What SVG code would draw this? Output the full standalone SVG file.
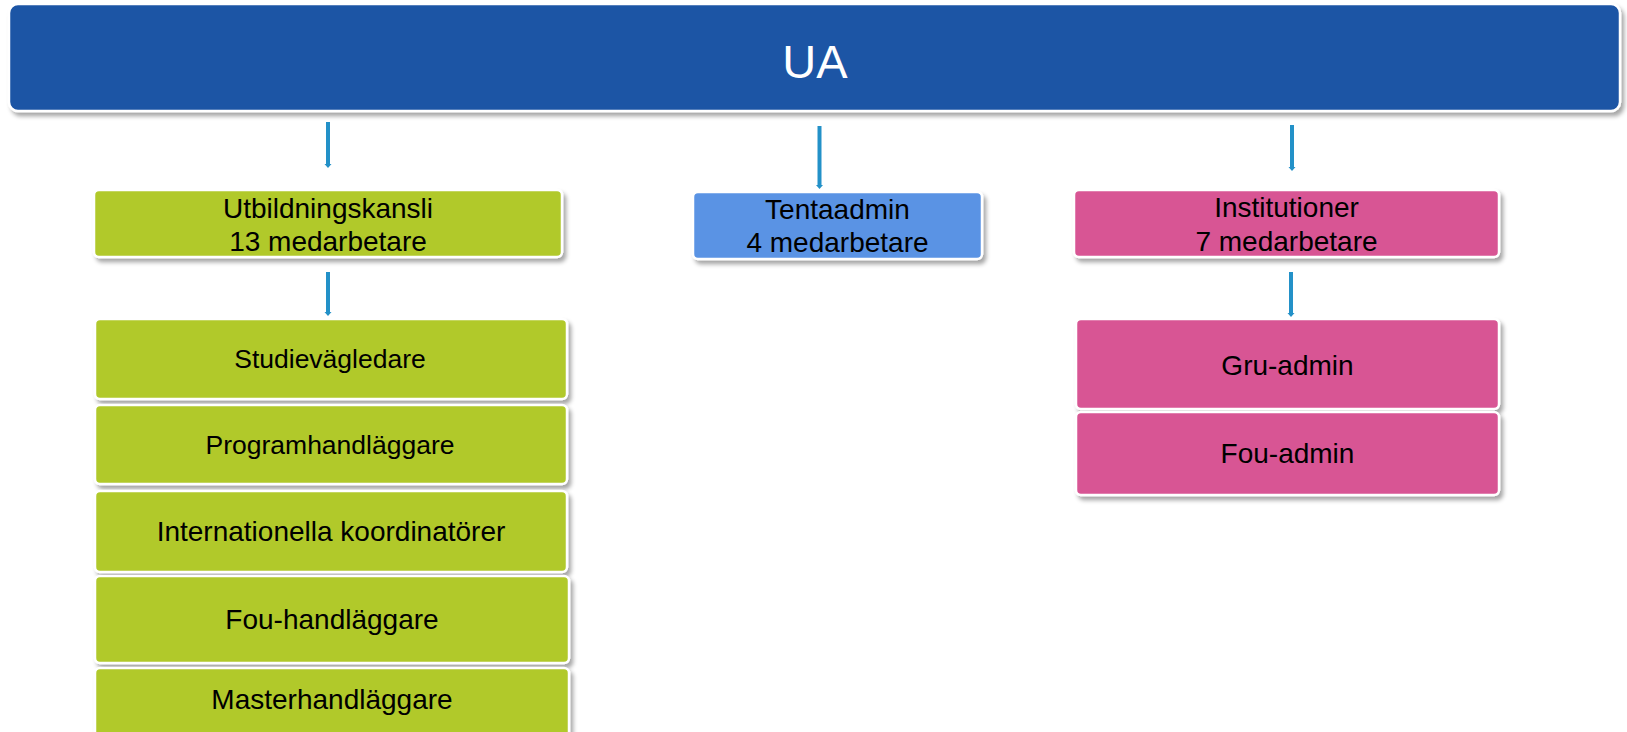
<svg xmlns="http://www.w3.org/2000/svg" width="1627" height="732" viewBox="0 0 1627 732">
<defs>
<filter id="sh" x="-5%" y="-20%" width="110%" height="150%">
<feDropShadow dx="3" dy="4" stdDeviation="2" flood-color="#000" flood-opacity="0.35"/>
</filter>
<style>
.box{stroke:#fff;stroke-width:2.5;filter:url(#sh)}
.ua{fill:#1B54A5}
.g{fill:#B1C92B}
.b{fill:#5A93E4}
.p{fill:#D85594}
text{font-family:"Liberation Sans",Arial,sans-serif;font-size:28px;fill:#000;text-anchor:middle}
.sm{font-size:26.5px}
.conn line{stroke:#2391C8;stroke-width:4}
.conn path{fill:#2391C8}
</style>
</defs>
<g id="ua"><rect class="box ua" x="9" y="4" width="1611" height="107" rx="9"/><text x="815" y="78" style="font-size:47px;fill:#fff">UA</text></g>
<g id="utbildningskansli"><rect class="box g" x="94" y="190" width="468" height="67" rx="5"/><text x="328" y="218">Utbildningskansli</text><text x="328" y="251">13 medarbetare</text></g>
<g id="tentaadmin"><rect class="box b" x="693" y="192" width="289" height="67" rx="5"/><text x="837.5" y="219">Tentaadmin</text><text x="837.5" y="252">4 medarbetare</text></g>
<g id="institutioner"><rect class="box p" x="1074" y="190" width="425" height="67" rx="5"/><text x="1286.5" y="217">Institutioner</text><text x="1286.5" y="251">7 medarbetare</text></g>
<g id="studievagledare"><rect class="box g" x="95" y="319" width="472" height="80" rx="5"/><text class="sm" x="330" y="368">Studievägledare</text></g>
<g id="programhandlaggare"><rect class="box g" x="95" y="405" width="472" height="79" rx="5"/><text class="sm" x="330" y="454">Programhandläggare</text></g>
<g id="internationella"><rect class="box g" x="95" y="491" width="472" height="81" rx="5"/><text x="331" y="541">Internationella koordinatörer</text></g>
<g id="fouhandlaggare"><rect class="box g" x="95" y="576" width="474" height="87" rx="5"/><text x="332" y="629">Fou-handläggare</text></g>
<g id="masterhandlaggare"><rect class="box g" x="95" y="668" width="474" height="80" rx="5"/><text x="332" y="709">Masterhandläggare</text></g>
<g id="gruadmin"><rect class="box p" x="1076" y="319" width="423" height="90" rx="5"/><text x="1287.5" y="375">Gru-admin</text></g>
<g id="fouadmin"><rect class="box p" x="1076" y="412" width="423" height="83" rx="5"/><text x="1287.5" y="463">Fou-admin</text></g>
<g id="connectors" class="conn">
<line x1="328" y1="122" x2="328" y2="165"/><path d="M324.5,164 L331.5,164 L328,168 Z"/>
<line x1="819.5" y1="126" x2="819.5" y2="186"/><path d="M816,185 L823,185 L819.5,189 Z"/>
<line x1="1292" y1="125" x2="1292" y2="168"/><path d="M1288.5,167 L1295.5,167 L1292,171 Z"/>
<line x1="328" y1="272" x2="328" y2="313"/><path d="M324.5,312 L331.5,312 L328,316 Z"/>
<line x1="1291" y1="272" x2="1291" y2="314"/><path d="M1287.5,313 L1294.5,313 L1291,317 Z"/>
</g>
</svg>
